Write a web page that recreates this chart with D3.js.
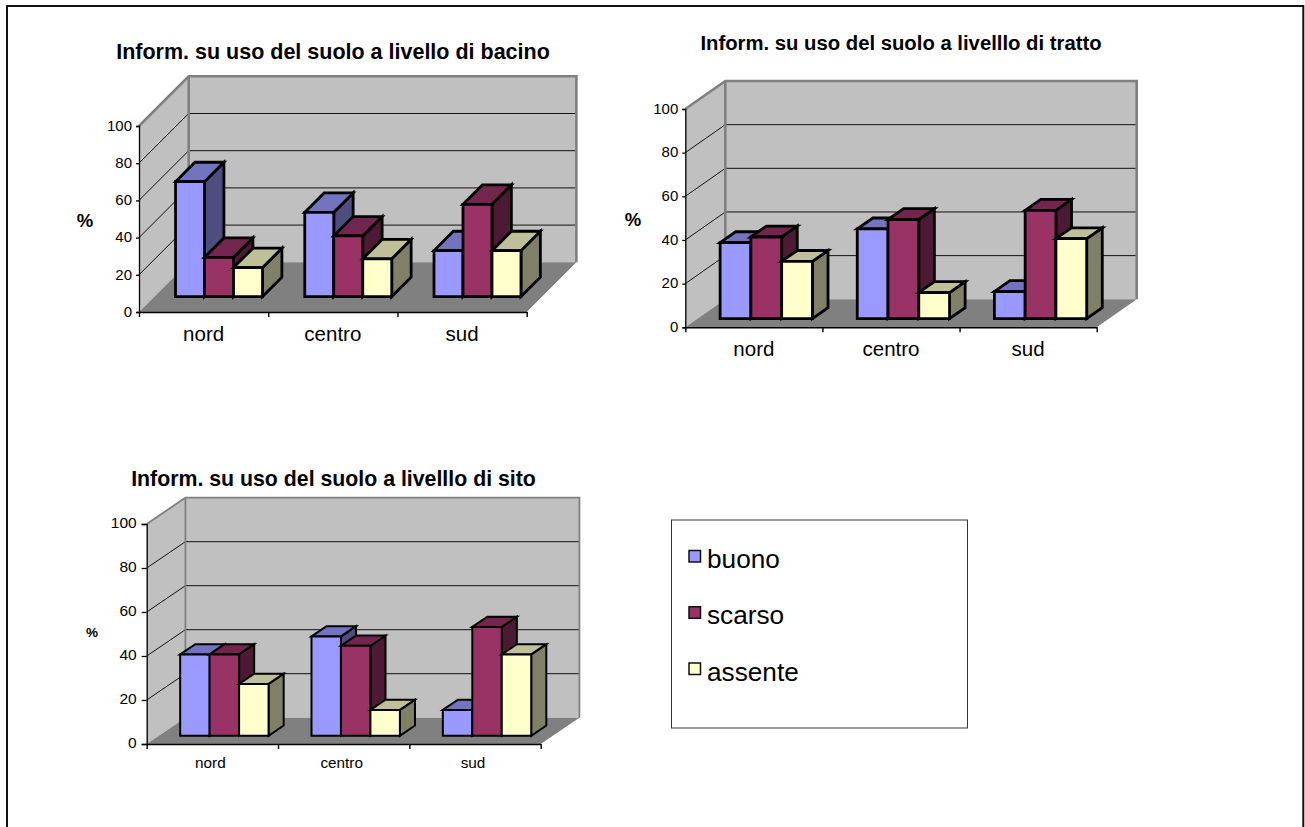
<!DOCTYPE html>
<html>
<head>
<meta charset="utf-8">
<style>
  html, body { margin: 0; padding: 0; background: #fff; }
  svg { display: block; }
  text { font-family: "Liberation Sans", Arial, sans-serif; fill: #000; }
</style>
<script src="https://cdn.jsdelivr.net/npm/d3@7"></script>
</head>
<body>
<svg id="page" width="1305" height="827"></svg>
<script>
const categories = ["nord", "centro", "sud"];
const seriesNames = ["buono", "scarso", "assente"];
const yTicks = [0, 20, 40, 60, 80, 100];

const bacinoBuono = [61.8, 45.3, 24.7];
const bacinoScarso = [21.1, 32.6, 49.6];
const bacinoAssente = [15.6, 20.3, 24.7];

const trattoBuono = [34.8, 41.1, 12.4];
const trattoScarso = [37.4, 45.4, 49.6];
const trattoAssente = [26.2, 11.9, 36.6];

const sitoBuono = [37.0, 45.2, 11.8];
const sitoScarso = [37.0, 40.9, 49.5];
const sitoAssente = [23.6, 11.8, 37.0];

const palette = [
  { front: "#9999FF", top: "#7373BF", side: "#4D4D80" },
  { front: "#993366", top: "#73264D", side: "#4D1A33" },
  { front: "#FFFFCC", top: "#BFBF99", side: "#808066" }
];

const panels = [
  {
    title: "Inform. su uso del suolo a livello di bacino",
    values: [bacinoBuono, bacinoScarso, bacinoAssente],
    x0: 139, x1: 526.7, y0: 312, y1: 126, dx: 49.7, dy: 49.7,
    titleX: 333, titleY: 59, titleSize: 21.5,
    pctX: 85, pctY: 227, pctSize: 18.5,
    tickSize: 15, tickLen: 3, tickPad: 4, tickShift: -0.5, catSize: 20.5, catY: 341, catShift: 0,
    stroke: 2.8, grid: 1, wall: 2.6
  },
  {
    title: "Inform. su uso del suolo a livelllo di tratto",
    values: [trattoBuono, trattoScarso, trattoAssente],
    x0: 685.3, x1: 1096.7, y0: 327.3, y1: 109, dx: 40, dy: 28,
    titleX: 901, titleY: 50, titleSize: 20.3,
    pctX: 633, pctY: 226, pctSize: 18.5,
    tickSize: 15, tickLen: 3, tickPad: 4, tickShift: -0.5, catSize: 20.5, catY: 356, catShift: 0,
    stroke: 2.8, grid: 1, wall: 2.6
  },
  {
    title: "Inform. su uso del suolo a livelllo di sito",
    values: [sitoBuono, sitoScarso, sitoAssente],
    x0: 146.7, x1: 540.7, y0: 744, y1: 524, dx: 38.7, dy: 26.3,
    titleX: 333.5, titleY: 486, titleSize: 21.3,
    pctX: 92, pctY: 637, pctSize: 13.5,
    tickSize: 15.5, tickLen: 5, tickPad: 5, tickShift: -1.2, catSize: 15.3, catY: 768, catShift: -2,
    stroke: 2, grid: 1, wall: 1.8
  }
];

const FRONT_OFFSET = 0.31;   // share of the floor depth in front of the bars
const BAR_DEPTH = 0.39;      // share of the floor depth taken by each bar
const GROUP_SHARE = 0.673;   // share of each category slot taken by the bars

const svg = d3.select("#page");

// Frame around the page: open along the bottom edge.
svg.append("path")
  .attr("d", d3.line()([[7, 827], [7, 6], [1303.3, 6], [1303.3, 827]]))
  .attr("fill", "none").attr("stroke", "#111").attr("stroke-width", 2);

panels.forEach(drawPanel);
drawLegend();

function drawPanel(p) {
  const g = svg.append("g");
  const y = d3.scaleLinear().domain([0, 100]).range([p.y0, p.y1]);
  const band = d3.scaleBand().domain(categories).range([p.x0, p.x1]);
  const slots = d3.scaleLinear().domain([0, categories.length]).range([p.x0, p.x1]);
  const groupW = band.bandwidth() * GROUP_SHARE;
  const barX = d3.scaleBand().domain(d3.range(seriesNames.length))
    .range([0, groupW]);
  const line = d3.line();

  const poly = (pts, fill, stroke, width) => g.append("path")
    .attr("d", line(pts) + "Z")
    .attr("fill", fill)
    .attr("stroke", stroke || "none")
    .attr("stroke-width", width || 0)
    .attr("stroke-linejoin", "miter");

  // Side wall, back wall and floor of the 3D box
  const backL = p.x0 + p.dx, backR = p.x1 + p.dx;
  const backT = p.y1 - p.dy, backB = p.y0 - p.dy;
  poly([[p.x0, p.y0], [p.x0, p.y1], [backL, backT], [backL, backB]], "#C0C0C0");
  poly([[backL, backB], [backL, backT], [backR, backT], [backR, backB]], "#C0C0C0");
  poly([[p.x0, p.y0], [backL, backB], [backR, backB], [p.x1, p.y0]], "#808080");

  // Gridlines run across the side wall and on along the back wall
  yTicks.filter(t => t > 0 && t < 100).forEach(t => {
    g.append("path")
      .attr("d", line([[p.x0, y(t)], [backL, y(t) - p.dy], [backR, y(t) - p.dy]]))
      .attr("fill", "none").attr("stroke", "#111").attr("stroke-width", p.grid);
  });

  // Grey wall edges
  g.append("path")
    .attr("d", line([[p.x0, p.y1], [backL, backT], [backR, backT], [backR, backB]]))
    .attr("fill", "none").attr("stroke", "#808080").attr("stroke-width", p.wall);
  g.append("path")
    .attr("d", line([[backL, backT], [backL, backB]]))
    .attr("fill", "none").attr("stroke", "#808080").attr("stroke-width", p.wall);

  // Bars: later series overlap earlier ones, later categories overlap earlier ones
  const baseY = p.y0 - p.dy * FRONT_OFFSET;
  const baseShift = p.dx * FRONT_OFFSET;
  const ddx = p.dx * BAR_DEPTH, ddy = p.dy * BAR_DEPTH;
  const scale = h => p.y0 - y(h);

  categories.forEach((cat, c) => {
    const groupStart = band(cat) + baseShift + (band.bandwidth() - groupW) / 2;
    seriesNames.forEach((_, s) => {
      const left = groupStart + barX(s);
      const w = barX.bandwidth();
      const top = baseY - scale(p.values[s][c]);
      const col = palette[s];
      poly([[left + w, baseY], [left + w, top], [left + w + ddx, top - ddy], [left + w + ddx, baseY - ddy]],
        col.side, "#000", p.stroke);
      poly([[left, top], [left + ddx, top - ddy], [left + w + ddx, top - ddy], [left + w, top]],
        col.top, "#000", p.stroke);
      poly([[left, baseY], [left, top], [left + w, top], [left + w, baseY]],
        col.front, "#000", p.stroke);
    });
  });

  // Value axis
  const yAxis = g.append("g").attr("transform", `translate(${p.x0},0)`)
    .call(d3.axisLeft(y).tickValues(yTicks).tickSize(p.tickLen).tickPadding(p.tickPad));
  yAxis.selectAll("path, line").attr("stroke", "#000").attr("stroke-width", 1.3);
  yAxis.selectAll("text").attr("y", p.tickShift).style("font-size", p.tickSize + "px")
    .style("font-family", '"Liberation Sans", Arial, sans-serif');

  // Category axis: tick marks at the slot boundaries, labels centred in the slots
  const xMarks = g.append("g").attr("transform", `translate(0,${p.y0})`)
    .call(d3.axisBottom(slots).tickValues(d3.range(categories.length + 1))
      .tickSize(5).tickSizeOuter(0).tickFormat(""));
  xMarks.selectAll("path, line").attr("stroke", "#000").attr("stroke-width", 1.4);

  const xLabels = g.append("g").attr("transform", `translate(${p.catShift},${p.catY})`)
    .call(d3.axisBottom(band).tickSize(0).tickPadding(0));
  xLabels.select(".domain").remove();
  xLabels.selectAll("text")
    .attr("y", 0).attr("dy", 0)
    .style("font-size", p.catSize + "px")
    .style("font-family", '"Liberation Sans", Arial, sans-serif');

  g.append("text").attr("x", p.titleX).attr("y", p.titleY)
    .attr("text-anchor", "middle").attr("font-weight", "bold")
    .attr("font-size", p.titleSize).text(p.title);
  g.append("text").attr("x", p.pctX).attr("y", p.pctY)
    .attr("text-anchor", "middle").attr("font-weight", "bold")
    .attr("font-size", p.pctSize).text("%");
}

function drawLegend() {
  const g = svg.append("g");
  g.append("rect").attr("x", 671.5).attr("y", 520).attr("width", 296).attr("height", 208)
    .attr("fill", "#fff").attr("stroke", "#333").attr("stroke-width", 1);
  const rowY = d3.scalePoint().domain(seriesNames).range([559, 671.5]);
  seriesNames.forEach((name, i) => {
    g.append("rect").attr("x", 689).attr("y", rowY(name) - 8.5).attr("width", 11.5).attr("height", 11.5)
      .attr("fill", palette[i].front).attr("stroke", "#111").attr("stroke-width", 1.5);
    g.append("text").attr("x", 707).attr("y", rowY(name) + 9)
      .attr("font-size", 26.2).text(name);
  });
}
</script>
</body>
</html>
